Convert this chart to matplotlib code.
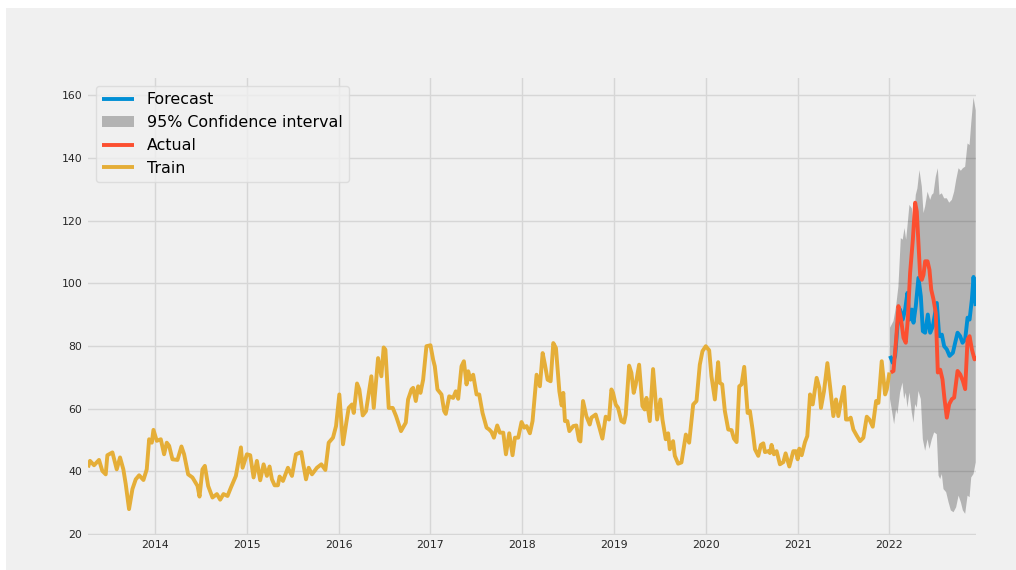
import matplotlib
matplotlib.use("Agg")
import matplotlib.pyplot as plt
from matplotlib.patches import Rectangle
import numpy as np

# ---------------- data (time in decimal years) ----------------
train_t = [
    2013.269, 2013.291, 2013.335, 2013.389, 2013.425, 2013.462, 2013.480, 2013.535, 2013.582, 2013.618,
    2013.654, 2013.680, 2013.716, 2013.753, 2013.789, 2013.826, 2013.873, 2013.909, 2013.935, 2013.964,
    2013.982, 2014.018, 2014.062, 2014.098, 2014.127, 2014.153, 2014.189, 2014.244, 2014.287, 2014.316,
    2014.360, 2014.407, 2014.462, 2014.484, 2014.516, 2014.542, 2014.578, 2014.625, 2014.673, 2014.709,
    2014.745, 2014.789, 2014.826, 2014.880, 2014.935, 2014.953,
    2015.000, 2015.036, 2015.073, 2015.109, 2015.145, 2015.182, 2015.218, 2015.247, 2015.273, 2015.302,
    2015.338, 2015.356, 2015.393, 2015.447, 2015.491, 2015.534, 2015.593, 2015.618, 2015.644, 2015.673,
    2015.709, 2015.763, 2015.811, 2015.855, 2015.891, 2015.938, 2015.971, 2016.007, 2016.047, 2016.083,
    2016.109, 2016.145, 2016.164, 2016.200, 2016.225, 2016.262, 2016.298, 2016.356, 2016.382, 2016.429,
    2016.465, 2016.490, 2016.509, 2016.545, 2016.589, 2016.625, 2016.679,
    2016.731, 2016.756, 2016.793, 2016.811, 2016.840, 2016.866, 2016.891, 2016.920, 2016.956, 2017.000,
    2017.029, 2017.047, 2017.076, 2017.120, 2017.149, 2017.167, 2017.204, 2017.247, 2017.276, 2017.302,
    2017.338, 2017.364, 2017.393, 2017.411, 2017.436, 2017.465, 2017.502, 2017.531, 2017.567, 2017.611,
    2017.640, 2017.665, 2017.691, 2017.727, 2017.756, 2017.793, 2017.822, 2017.858, 2017.894, 2017.920,
    2017.956, 2017.992, 2018.021, 2018.047, 2018.083, 2018.112, 2018.156, 2018.192, 2018.222, 2018.247,
    2018.276, 2018.309, 2018.338, 2018.367, 2018.404, 2018.429, 2018.447,
    2018.465, 2018.491, 2018.513, 2018.556, 2018.589, 2018.618, 2018.633, 2018.662, 2018.698, 2018.735,
    2018.753, 2018.800, 2018.836, 2018.873, 2018.909, 2018.945, 2018.971, 2018.989, 2019.018, 2019.044,
    2019.080, 2019.109, 2019.127, 2019.164, 2019.189, 2019.214, 2019.236, 2019.273, 2019.309, 2019.334,
    2019.353, 2019.389, 2019.425, 2019.469, 2019.505, 2019.527, 2019.563, 2019.589, 2019.607, 2019.643,
    2019.662, 2019.698, 2019.734, 2019.782, 2019.818, 2019.862, 2019.898, 2019.934, 2019.963, 2019.999,
    2020.036, 2020.061, 2020.098, 2020.134, 2020.152, 2020.178, 2020.207,
    2020.244, 2020.280, 2020.306, 2020.335, 2020.364, 2020.389, 2020.418, 2020.455, 2020.480, 2020.509,
    2020.535, 2020.571, 2020.600, 2020.626, 2020.644, 2020.680, 2020.698, 2020.716, 2020.742, 2020.771,
    2020.807, 2020.844, 2020.869, 2020.909, 2020.953, 2020.982, 2021.000, 2021.018, 2021.044, 2021.080,
    2021.105, 2021.135, 2021.164, 2021.207, 2021.236, 2021.254, 2021.287, 2021.324, 2021.353, 2021.389,
    2021.418, 2021.443, 2021.469, 2021.505, 2021.527, 2021.553, 2021.578, 2021.607, 2021.643, 2021.680,
    2021.716, 2021.753, 2021.782, 2021.818, 2021.855, 2021.880, 2021.916, 2021.953, 2021.971, 2022.000,
]
train_v = [
    41.2, 43.3, 41.9, 43.6, 40.1, 39.0, 45.1, 46.0, 40.6, 44.4,
    40.6, 35.9, 27.9, 34.3, 37.4, 38.7, 37.2, 40.6, 50.2, 49.1,
    53.2, 49.7, 50.2, 45.4, 49.1, 48.1, 43.8, 43.6, 47.9, 45.4,
    39.0, 38.0, 35.3, 31.9, 40.6, 41.7, 35.3, 31.6, 32.7, 30.9,
    32.7, 32.1, 34.8, 38.5, 47.6, 41.1,
    45.4, 45.1, 38.0, 43.3, 37.1, 42.2, 38.5, 41.5, 37.4, 35.5,
    35.5, 38.3, 36.9, 41.1, 38.5, 45.4, 46.1, 41.7, 37.4, 41.1,
    39.0, 41.1, 42.2, 40.4, 49.1, 50.7, 54.4, 64.5, 48.6, 55.5,
    60.2, 61.3, 58.6, 68.0, 66.1, 57.8, 59.2, 70.3, 60.2, 76.1,
    70.3, 79.5, 78.8, 60.2, 60.2, 57.6, 52.8,
    55.5, 62.9, 66.1, 66.6, 62.4, 67.1, 65.0, 69.2, 79.9, 80.2,
    75.6, 73.5, 66.1, 64.5, 59.2, 58.3, 63.9, 63.4, 65.5, 63.1,
    73.5, 75.1, 67.7, 71.9, 69.2, 70.8, 64.5, 64.5, 58.6, 53.9,
    53.3, 52.5, 50.7, 54.6, 52.3, 52.3, 45.4, 52.1, 45.1, 50.7,
    50.7, 55.7, 53.9, 54.4, 52.1, 56.0, 70.8, 67.1, 77.7, 74.0,
    69.2, 68.7, 80.9, 79.3, 65.5, 61.0, 65.0,
    56.0, 56.0, 52.8, 54.4, 54.6, 49.9, 49.5, 62.4, 57.6, 54.9,
    57.1, 58.1, 54.4, 50.4, 57.4, 56.5, 66.1, 65.0, 61.3, 60.2,
    56.0, 55.5, 58.1, 73.7, 71.4, 65.0, 67.7, 74.0, 60.8, 59.7,
    63.4, 56.0, 72.6, 56.5, 62.9, 56.5, 50.2, 52.1, 47.0, 49.6,
    44.9, 42.4, 42.8, 51.7, 49.1, 61.3, 62.4, 74.0, 78.3, 79.9,
    78.6, 70.3, 62.9, 74.8, 68.2, 67.7, 59.2,
    53.3, 53.1, 50.4, 49.3, 67.1, 67.7, 73.3, 58.6, 59.2, 53.3,
    47.0, 44.9, 48.4, 48.9, 46.1, 46.4, 45.8, 48.4, 45.4, 46.4,
    42.2, 42.9, 45.7, 41.5, 46.4, 46.4, 43.8, 47.2, 45.1, 49.3,
    51.2, 64.5, 61.3, 69.8, 66.6, 60.2, 65.5, 74.5, 67.1, 57.6,
    62.9, 57.6, 61.8, 66.9, 56.5, 56.5, 57.1, 53.3, 51.4, 49.6,
    50.7, 57.4, 56.5, 54.2, 62.4, 61.8, 75.1, 64.5, 66.1, 71.5,
]

forecast_t = [
    2022.007, 2022.036, 2022.062, 2022.087, 2022.116, 2022.145, 2022.171, 2022.196, 2022.218, 2022.244,
    2022.262, 2022.287, 2022.316, 2022.342, 2022.364, 2022.389, 2022.418, 2022.444, 2022.473, 2022.516,
    2022.542, 2022.571, 2022.596, 2022.625, 2022.655, 2022.691, 2022.716, 2022.742, 2022.771, 2022.796,
    2022.825, 2022.851, 2022.873, 2022.898, 2022.916, 2022.940,
]
forecast_v = [
    76.8, 74.6, 76.8, 86.3, 91.6, 88.4, 91.6, 96.9, 88.4, 91.6,
    87.4, 92.7, 101.7, 95.8, 84.7, 84.2, 90.0, 84.2, 86.3, 93.7,
    83.1, 83.6, 79.9, 78.9, 76.8, 77.8, 81.0, 84.2, 83.1, 81.0,
    82.1, 89.0, 88.4, 94.8, 102.0, 92.7,
]

actual_t = [
    2022.015, 2022.044, 2022.073, 2022.098, 2022.127, 2022.153, 2022.178, 2022.200, 2022.225, 2022.255,
    2022.280, 2022.298, 2022.316, 2022.335, 2022.353, 2022.371, 2022.389, 2022.415, 2022.436, 2022.455,
    2022.480, 2022.505, 2022.527, 2022.553, 2022.578, 2022.600, 2022.625, 2022.651, 2022.680, 2022.705,
    2022.742, 2022.771, 2022.800, 2022.825, 2022.851, 2022.873, 2022.898, 2022.927, 2022.945,
]
actual_v = [
    71.5, 72.0, 82.1, 92.7, 88.4, 82.6, 81.0, 88.4, 103.3, 113.9,
    125.7, 122.9, 112.8, 102.2, 101.1, 102.7, 107.0, 107.0, 104.3, 98.0,
    94.8, 90.5, 71.5, 72.4, 69.3, 63.0, 57.1, 61.4, 63.0, 63.5,
    72.0, 70.9, 68.8, 66.2, 82.1, 83.1, 78.9, 75.7, 76.5,
]

ci_upper_t = [
    2022.007, 2022.044, 2022.073, 2022.098, 2022.124, 2022.145, 2022.164, 2022.182, 2022.196, 2022.218,
    2022.244, 2022.262, 2022.287, 2022.305, 2022.327, 2022.353, 2022.371, 2022.389, 2022.415, 2022.444,
    2022.462, 2022.480, 2022.505, 2022.527, 2022.545, 2022.571, 2022.596, 2022.625, 2022.651, 2022.680,
    2022.705, 2022.727, 2022.753, 2022.778, 2022.800, 2022.825, 2022.851, 2022.873, 2022.891, 2022.916,
    2022.940,
]
ci_upper_v = [
    85.8, 87.9, 92.7, 99.0, 114.4, 113.9, 117.6, 113.9, 118.1, 125.0,
    123.9, 118.1, 128.2, 130.3, 136.1, 130.8, 122.4, 124.5, 129.2, 126.6,
    128.2, 128.7, 134.0, 136.7, 128.2, 128.7, 127.1, 127.1, 125.7, 126.6,
    129.2, 133.0, 136.7, 135.9, 136.7, 137.2, 144.6, 144.1, 151.0, 159.3,
    155.2,
]
ci_lower_t = [
    2022.007, 2022.036, 2022.051, 2022.073, 2022.087, 2022.116, 2022.142, 2022.160, 2022.178, 2022.196,
    2022.218, 2022.244, 2022.262, 2022.280, 2022.298, 2022.316, 2022.342, 2022.364, 2022.389, 2022.415,
    2022.436, 2022.462, 2022.487, 2022.516, 2022.535, 2022.553, 2022.571, 2022.589, 2022.618, 2022.644,
    2022.669, 2022.698, 2022.727, 2022.753, 2022.778, 2022.800, 2022.825, 2022.851, 2022.873, 2022.891,
    2022.916, 2022.940,
]
ci_lower_v = [
    63.0, 57.7, 55.0, 59.8, 58.2, 65.1, 68.3, 63.0, 65.1, 60.3,
    65.1, 58.7, 55.5, 61.4, 60.3, 65.6, 63.0, 50.2, 46.5, 50.2,
    47.1, 50.2, 52.4, 51.8, 38.6, 37.5, 39.1, 34.3, 33.3, 30.1,
    27.5, 26.9, 28.5, 32.2, 30.1, 27.5, 26.4, 32.2, 31.7, 38.0,
    39.1, 42.8,
]

year_ticks = [2014, 2015, 2016, 2017, 2018, 2019, 2020, 2021, 2022]
y_ticks = [20, 40, 60, 80, 100, 120, 140, 160]

# ---------------- style ----------------
BG = "#f0f0f0"
C_FC = "#008fd5"
C_ACT = "#fc4f30"
C_TRAIN = "#e5ae38"

plt.rcParams["font.family"] = ["DejaVu Sans"]

fig = plt.figure(figsize=(10.16, 5.70), dpi=100, facecolor=BG)
ax = fig.add_axes([88 / 1016, 1 - 534.5 / 570, (976 - 88) / 1016, (534.5 - 78) / 570])
ax.set_facecolor(BG)

# white strips at the top and left edge of the image
fig.patches.append(Rectangle((0, 1 - 8 / 570), 1, 8 / 570, transform=fig.transFigure,
                             facecolor="white", edgecolor="none", zorder=-10))
fig.patches.append(Rectangle((0, 0), 6 / 1016, 1, transform=fig.transFigure,
                             facecolor="white", edgecolor="none", zorder=-10))

lw = 2.8
ci_x = np.concatenate([ci_upper_t, ci_lower_t[::-1]])
ci_y = np.concatenate([ci_upper_v, ci_lower_v[::-1]])
h_ci = ax.fill(ci_x, ci_y, color="k", alpha=0.25, linewidth=0, zorder=2,
               label="95% Confidence interval")[0]
h_fc, = ax.plot(forecast_t, forecast_v, color=C_FC, lw=lw, zorder=3, label="Forecast",
                solid_capstyle="butt")
h_act, = ax.plot(actual_t, actual_v, color=C_ACT, lw=lw, zorder=4, label="Actual",
                 solid_capstyle="butt")
h_tr, = ax.plot(train_t, train_v, color=C_TRAIN, lw=lw, zorder=3, label="Train",
                solid_capstyle="butt")

ax.set_xlim(train_t[0], ci_upper_t[-1] + 0.003)
ax.set_ylim(19.8, 165.5)
ax.set_xticks(year_ticks)
ax.set_xticklabels([str(y) for y in year_ticks])
ax.set_yticks(y_ticks)
ax.set_yticklabels([str(v) for v in y_ticks])

ax.grid(True, color="#d6d6d6", linewidth=1.0)
ax.set_axisbelow(True)
for s in ax.spines.values():
    s.set_visible(False)
ax.tick_params(axis="both", length=0, labelsize=7.8, colors="#262626", pad=4)

leg = ax.legend(handles=[h_fc, h_ci, h_act, h_tr], loc="upper left", fontsize=11.4,
                fancybox=True, facecolor=BG, framealpha=0.8, edgecolor="#d9d9d9")

fig.savefig("out.png", dpi=100, facecolor=BG)
